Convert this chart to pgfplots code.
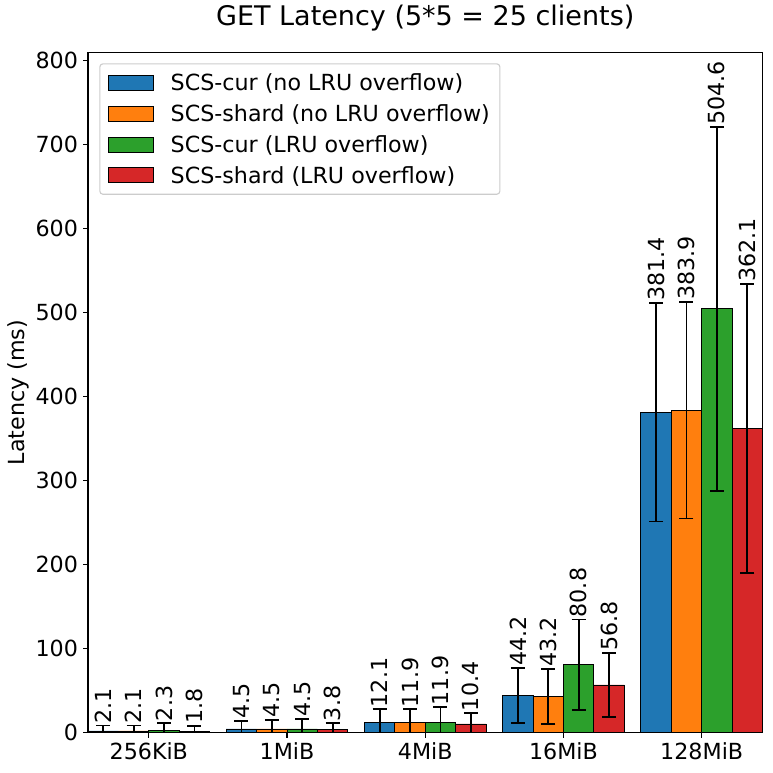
\documentclass[border=0pt]{standalone}
\usepackage{fontspec}
\setmainfont{DejaVu Sans}
\usepackage{pgfplots}
\pgfplotsset{compat=1.18}
\usepackage{pgfplotstable}
\definecolor{c1}{HTML}{1F77B4}
\definecolor{c2}{HTML}{FF7F0E}
\definecolor{c3}{HTML}{2CA02C}
\definecolor{c4}{HTML}{D62728}
\newcommand\fs{\fontsize{22.2bp}{26bp}\selectfont}
\newcommand\ft{\fontsize{27bp}{32bp}\selectfont}

\pgfplotstableread{
x y err
0 2.1 6.5
1 4.5 9.4
2 12.1 15.7
3 44.2 32.9
4 381.4 130
}\curnolru
\pgfplotstableread{
x y err
0 2.1 6.5
1 4.5 10.6
2 11.9 15.9
3 43.2 32.9
4 383.9 129
}\shardnolru
\pgfplotstableread{
x y err
0 2.3 9
1 4.5 12.2
2 11.9 18.3
3 80.8 54
4 504.6 216.5
}\curlru
\pgfplotstableread{
x y err
0 1.8 6
1 3.8 7.4
2 10.4 12.7
3 56.8 38.4
4 362.1 172
}\shardlru

\pgfplotsset{
  barst/.style={ybar, bar width=0.22, bar shift=#1, draw=black, line width=0.8bp},
  errst/.style={draw=none, mark=none, forget plot, line width=1.8bp},
  labst/.style={draw=none, mark=none, forget plot, nodes near coords,
    point meta=explicit symbolic,
    nodes near coords style={rotate=90, anchor=west, inner xsep=2bp, inner ysep=0pt, font=\fs, black}},
}

\begin{document}
\begin{tikzpicture}
\begin{axis}[
  scale only axis,
  width=674.5bp, height=680.4bp,
  xmin=-0.44, xmax=4.44,
  ymin=0, ymax=810,
  xtick={0,1,2,3,4},
  xticklabels={256KiB,1MiB,4MiB,16MiB,128MiB},
  ytick={0,100,...,800},
  xtick pos=bottom, ytick pos=left,
  tick align=outside,
  major tick length=4.9bp,
  every tick/.style={black, line width=1.1bp},
  axis line style={line width=1.1bp},
  /pgf/number format/assume math mode=true,
  tick label style={font=\fs},
  yticklabel style={inner sep=0pt, anchor=east, xshift=-4.9bp},
  xticklabel style={inner sep=0pt, anchor=north, yshift=-4.9bp},
  axis on top,
  title={GET Latency (5*5 = 25 clients)},
  title style={font=\ft, at={(axis description cs:0.5,1)}, anchor=base, yshift=20.6bp},
  ylabel={Latency (ms)},
  every axis y label/.style={at={(axis description cs:-0.1038,0.5)}, rotate=90, anchor=center, font=\fs},
  legend cell align=left,
  legend image code/.code={\draw[#1,draw=black,line width=0.8bp,sharp corners] (0bp,-7.5bp) rectangle (45bp,7.5bp);},
  legend style={at={(axis description cs:0.0168,0.9838)}, anchor=north west,
    draw=black!20, line width=1.1bp, rounded corners=3bp, fill=white,
    font=\fs, inner xsep=8bp, inner ysep=7.7bp, row sep=8.5bp, column sep=15bp,
    nodes={inner sep=2bp}},
]
\addplot[barst=-0.33, fill=c1] table[x=x,y=y]{\curnolru};
\addlegendentry{SCS-cur (no LRU overflow)}
\addplot[barst=-0.11, fill=c2] table[x=x,y=y]{\shardnolru};
\addlegendentry{SCS-shard (no LRU overflow)}
\addplot[barst=0.11, fill=c3] table[x=x,y=y]{\curlru};
\addlegendentry{SCS-cur (LRU overflow)}
\addplot[barst=0.33, fill=c4] table[x=x,y=y]{\shardlru};
\addlegendentry{SCS-shard (LRU overflow)}

\addplot[errst, error bars/.cd, y dir=both, y explicit,
  error bar style={line width=1.8bp, black, solid},
  error mark options={line width=1.8bp, black, mark size=7bp, rotate=90}]
  table[x expr=\thisrow{x}-0.33, y=y, y error=err]{\curnolru};
\addplot[errst, error bars/.cd, y dir=both, y explicit,
  error bar style={line width=1.8bp, black, solid},
  error mark options={line width=1.8bp, black, mark size=7bp, rotate=90}]
  table[x expr=\thisrow{x}-0.11, y=y, y error=err]{\shardnolru};
\addplot[errst, error bars/.cd, y dir=both, y explicit,
  error bar style={line width=1.8bp, black, solid},
  error mark options={line width=1.8bp, black, mark size=7bp, rotate=90}]
  table[x expr=\thisrow{x}+0.11, y=y, y error=err]{\curlru};
\addplot[errst, error bars/.cd, y dir=both, y explicit,
  error bar style={line width=1.8bp, black, solid},
  error mark options={line width=1.8bp, black, mark size=7bp, rotate=90}]
  table[x expr=\thisrow{x}+0.33, y=y, y error=err]{\shardlru};

\addplot[labst] table[x expr=\thisrow{x}-0.33, y expr=\thisrow{y}+\thisrow{err}, meta=y]{\curnolru};
\addplot[labst] table[x expr=\thisrow{x}-0.11, y expr=\thisrow{y}+\thisrow{err}, meta=y]{\shardnolru};
\addplot[labst] table[x expr=\thisrow{x}+0.11, y expr=\thisrow{y}+\thisrow{err}, meta=y]{\curlru};
\addplot[labst] table[x expr=\thisrow{x}+0.33, y expr=\thisrow{y}+\thisrow{err}, meta=y]{\shardlru};
\end{axis}
\pgfresetboundingbox
\path[use as bounding box] ([shift={(-88bp,-40.3bp)}]current axis.south west) rectangle ([shift={(9.5bp,52.3bp)}]current axis.north east);
\end{tikzpicture}
\end{document}
